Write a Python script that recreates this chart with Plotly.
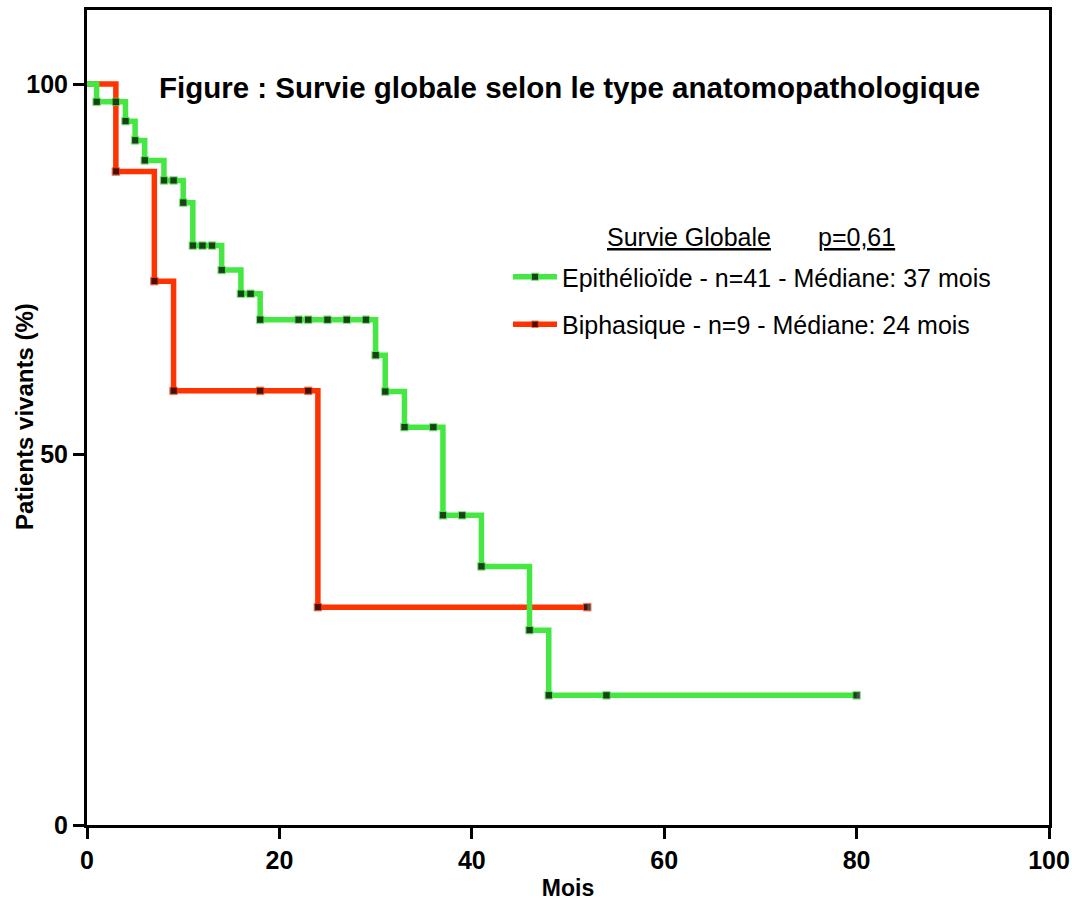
import plotly.graph_objects as go

# Survival curves (time in months, % alive). Every listed point after t=0 carries a marker.
epi_months = [0, 1, 3, 4, 5, 6, 8, 9, 10, 11, 12, 13, 14, 16, 17, 18, 22, 23, 25, 27, 29,
              30, 31, 33, 36, 37, 39, 41, 46, 48, 54, 80]
epi_surv = [100, 97.6, 97.6, 95.0, 92.4, 89.7, 87.0, 87.0, 84.0, 78.2, 78.2, 78.2, 74.9,
            71.7, 71.7, 68.2, 68.2, 68.2, 68.2, 68.2, 68.2, 63.4, 58.5, 53.7, 53.7, 41.8,
            41.8, 34.9, 26.3, 17.5, 17.5, 17.5]

bip_months = [0, 3, 7, 9, 18, 23, 24, 52]
bip_surv = [100, 88.2, 73.4, 58.6, 58.6, 58.6, 29.4, 29.4]

x_ticks = [0, 20, 40, 60, 80, 100]
y_ticks = [0, 50, 100]

epi_name = "Epithélioïde - n=41 - Médiane: 37 mois"
bip_name = "Biphasique - n=9 - Médiane: 24 mois"

GREEN = "#45e842"
RED = "#ff3300"
FONT = "Liberation Sans, Arial, sans-serif"

W, H = 1072, 901
ML, MR, MT, MB = 87, 23, 10, 76


def px_x(p):
    return (p - ML) / (W - ML - MR)


def px_y(p):
    return (H - MB - p) / (H - MT - MB)


def marker_sizes(n):
    return [0] + [7.5] * (n - 1)


fig = go.Figure()

fig.add_trace(go.Scatter(
    x=bip_months, y=bip_surv, name=bip_name, mode="lines+markers",
    line=dict(color=RED, width=5.5, shape="hv"),
    marker=dict(symbol="square", color="black", size=marker_sizes(len(bip_months))),
    legendgroup="bip", legendrank=2,
))
fig.add_trace(go.Scatter(
    x=epi_months, y=epi_surv, name=epi_name, mode="lines+markers",
    line=dict(color=GREEN, width=5.5, shape="hv"),
    marker=dict(symbol="square", color="black", size=marker_sizes(len(epi_months))),
    legendgroup="epi", legendrank=1,
))

axis_common = dict(
    showline=True, linecolor="black", linewidth=3, mirror=True,
    ticks="outside", ticklen=11, tickwidth=3, tickcolor="black",
    showgrid=False, zeroline=False,
    tickfont=dict(family=FONT, size=25, color="black", weight="bold"),
)

fig.update_xaxes(
    range=[0, 100], tickvals=x_ticks, ticktext=[f"<b>{v}</b>" for v in x_ticks], **axis_common,
    title=dict(text="<b>Mois</b>", font=dict(family=FONT, size=23, color="black"), standoff=10),
)
fig.update_yaxes(
    range=[0, 110], tickvals=y_ticks, ticktext=[f"<b>{v}</b>" for v in y_ticks], **axis_common,
)

# y-axis title, placed by hand to sit close to the tick labels
fig.add_annotation(
    x=px_x(24), y=px_y(417), xref="paper", yref="paper", showarrow=False,
    text="<b>Patients vivants (%)</b>", textangle=-90,
    font=dict(family=FONT, size=24, color="black"), xanchor="center", yanchor="middle",
)

fig.add_annotation(
    x=px_x(569), y=px_y(87), xref="paper", yref="paper", showarrow=False,
    text="<b>Figure : Survie globale selon le type anatomopathologique</b>",
    font=dict(family=FONT, size=29.5, color="black"), xanchor="center", yanchor="middle",
)
fig.add_annotation(
    x=px_x(605), y=px_y(237), xref="paper", yref="paper", showarrow=False,
    text="<u>Survie Globale</u>", font=dict(family=FONT, size=25, color="black"),
    xanchor="left", yanchor="middle",
)
fig.add_annotation(
    x=px_x(816), y=px_y(237), xref="paper", yref="paper", showarrow=False,
    text="<u>p=0,61</u>", font=dict(family=FONT, size=25, color="black"),
    xanchor="left", yanchor="middle",
)

fig.update_layout(
    width=W, height=H,
    margin=dict(l=ML, r=MR, t=MT, b=MB, autoexpand=False),
    paper_bgcolor="white", plot_bgcolor="white",
    showlegend=True,
    legend=dict(
        x=px_x(508), y=px_y(254), xanchor="left", yanchor="top",
        font=dict(family=FONT, size=25, color="black"),
        bgcolor="rgba(0,0,0,0)", traceorder="grouped", tracegroupgap=12,
        itemwidth=44,
    ),
)

fig.write_html("out.html")
